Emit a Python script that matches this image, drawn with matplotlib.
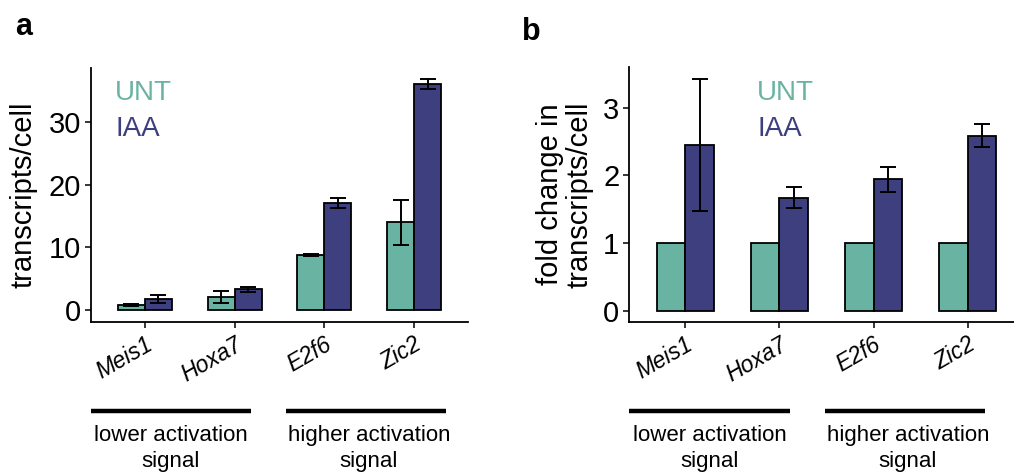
import numpy as np
import matplotlib.pyplot as plt
from matplotlib.lines import Line2D

plt.rcParams['font.family'] = ['Liberation Sans', 'DejaVu Sans']

genes = ['Meis1', 'Hoxa7', 'E2f6', 'Zic2']
groups = ['lower activation\nsignal', 'higher activation\nsignal']

# panel a: transcripts/cell
unt_a = [0.8, 2.1, 8.8, 14.0]
unt_a_err = [0.1, 0.95, 0.1, 3.6]
iaa_a = [1.75, 3.35, 17.0, 36.0]
iaa_a_err = [0.65, 0.4, 0.8, 0.8]

# panel b: fold change
unt_b = [1, 1, 1, 1]
iaa_b = [2.45, 1.67, 1.94, 2.58]
iaa_b_err = [0.975, 0.15, 0.185, 0.17]

c_unt = '#69b3a2'
c_iaa = '#3e3f7e'

fig = plt.figure(figsize=(10.14, 4.72), dpi=100)
W, H = 1014, 472

def px(x0, y0, x1, y1):
    return [x0 / W, 1 - y1 / H, (x1 - x0) / W, (y1 - y0) / H]

ax_a = fig.add_axes(px(91, 68, 468, 322))
ax_b = fig.add_axes(px(629, 67, 1024, 322))

x = np.arange(1, 5)
bw = 0.3
ekw = dict(elinewidth=1.4, capthick=1.4, capsize=6, ecolor='black')

def draw(ax, unt, unt_err, iaa, iaa_err, ylim, yticks):
    ax.bar(x - bw / 2, unt, bw, color=c_unt, edgecolor='black', linewidth=1.3,
           yerr=unt_err, error_kw=ekw, zorder=2)
    ax.bar(x + bw / 2, iaa, bw, color=c_iaa, edgecolor='black', linewidth=1.3,
           yerr=iaa_err, error_kw=ekw, zorder=2)
    ax.set_xlim(0.4, 4.6)
    ax.set_ylim(*ylim)
    ax.set_yticks(yticks)
    ax.set_xticks(x)
    ax.set_xticklabels(genes, rotation=30, ha='right', rotation_mode='anchor',
                       fontsize=16.5, style='italic')
    ax.tick_params(axis='y', labelsize=21, length=4, width=1.1, pad=3)
    ax.tick_params(axis='x', length=4, width=1.1, pad=4)
    for s in ['top', 'right']:
        ax.spines[s].set_visible(False)
    for s in ['left', 'bottom']:
        ax.spines[s].set_linewidth(1.3)

draw(ax_a, unt_a, unt_a_err, iaa_a, iaa_a_err, (-1.9, 38.6), [0, 10, 20, 30])
draw(ax_b, unt_b, None, iaa_b, iaa_b_err, (-0.17, 3.6), [0, 1, 2, 3])

ax_a.set_ylabel('transcripts/cell', fontsize=21)
ax_a.yaxis.set_label_coords((38 - 91) / 377, 0.5)
ax_b.set_ylabel('fold change in\ntranscripts/cell', fontsize=21,
                linespacing=1.05)
ax_b.yaxis.set_label_coords((593 - 629) / 395, 0.5)

# legends as coloured text
fig.text(115 / W, 1 - 93 / H, 'UNT', color=c_unt, fontsize=20, va='center')
fig.text(115 / W, 1 - 129 / H, 'IAA', color=c_iaa, fontsize=20, va='center')
fig.text(757 / W, 1 - 93 / H, 'UNT', color=c_unt, fontsize=20, va='center')
fig.text(757 / W, 1 - 129 / H, 'IAA', color=c_iaa, fontsize=20, va='center')

# panel letters
fig.text(15 / W, 1 - 27 / H, 'a', fontsize=22, fontweight='bold', va='center')
fig.text(522 / W, 1 - 32 / H, 'b', fontsize=22, fontweight='bold', va='center')

# group brackets
brackets = [(91, 251, 171), (286, 446, 369), (629, 790, 710), (825, 985, 908)]
for i, (x0, x1, xc) in enumerate(brackets):
    fig.add_artist(Line2D([x0 / W, x1 / W], [1 - 411 / H, 1 - 411 / H],
                          color='black', linewidth=3.2, solid_capstyle='butt'))
    fig.text(xc / W, 1 - 425 / H, groups[i % 2], fontsize=16, ha='center',
             va='top', linespacing=1.3)

fig.savefig('out.png', dpi=100)
